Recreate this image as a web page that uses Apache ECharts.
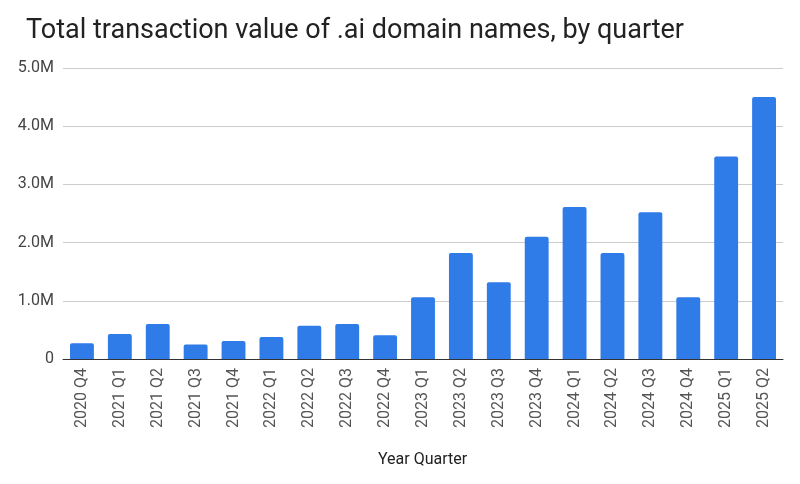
<!DOCTYPE html>
<html>
<head>
<meta charset="utf-8">
<script src="https://cdn.jsdelivr.net/npm/echarts@6/dist/echarts.min.js"></script>
<style>
html,body{margin:0;padding:0;background:#fff;}
#chart{width:800px;height:484px;}
</style>
</head>
<body>
<div id="chart"></div>
<script>
const titleText = 'Total transaction value of .ai domain names, by quarter';
const xAxisName = 'Year Quarter';
const categories = ['2020 Q4','2021 Q1','2021 Q2','2021 Q3','2021 Q4','2022 Q1','2022 Q2','2022 Q3','2022 Q4','2023 Q1','2023 Q2','2023 Q3','2023 Q4','2024 Q1','2024 Q2','2024 Q3','2024 Q4','2025 Q1','2025 Q2'];
const values = [270000, 430000, 600000, 250000, 310000, 380000, 570000, 600000, 410000, 1060000, 1820000, 1320000, 2100000, 2610000, 1820000, 2520000, 1060000, 3480000, 4500000];
const yTicks = [0, 1000000, 2000000, 3000000, 4000000, 5000000];

const chart = echarts.init(document.getElementById('chart'));
chart.setOption({
  animation: false,
  backgroundColor: '#ffffff',
  title: {
    text: titleText,
    left: 21, top: 13,
    textStyle: {fontFamily: 'Roboto', fontSize: 27, fontWeight: 'normal', color: '#222222'}
  },
  grid: {left: 63, right: 17, top: 68, bottom: 125, containLabel: false},
  xAxis: {
    type: 'category',
    data: categories,
    axisLine: {show: true, lineStyle: {color: '#333333', width: 1}},
    axisTick: {show: false},
    axisLabel: {rotate: 90, margin: 9, fontFamily: 'Roboto', fontSize: 16, color: '#555555', interval: 0}
  },
  yAxis: {
    type: 'value',
    min: yTicks[0], max: yTicks[yTicks.length - 1], interval: 1000000,
    axisLine: {show: false},
    axisTick: {show: false},
    splitLine: {lineStyle: {color: '#cccccc', width: 1}},
    axisLabel: {
      margin: 9, fontFamily: 'Roboto', fontSize: 16, color: '#444444',
      formatter: v => v === 0 ? '0' : (v / 1000000).toFixed(1) + 'M'
    }
  },
  graphic: [{
    type: 'text',
    left: 378, top: 452,
    style: {text: xAxisName, font: '16px Roboto', fill: '#222222'}
  }],
  series: [{
    type: 'bar',
    data: values,
    barCategoryGap: '37%',
    itemStyle: {color: '#2f7be8', borderRadius: [2, 2, 0, 0]}
  }]
});
</script>
</body>
</html>
